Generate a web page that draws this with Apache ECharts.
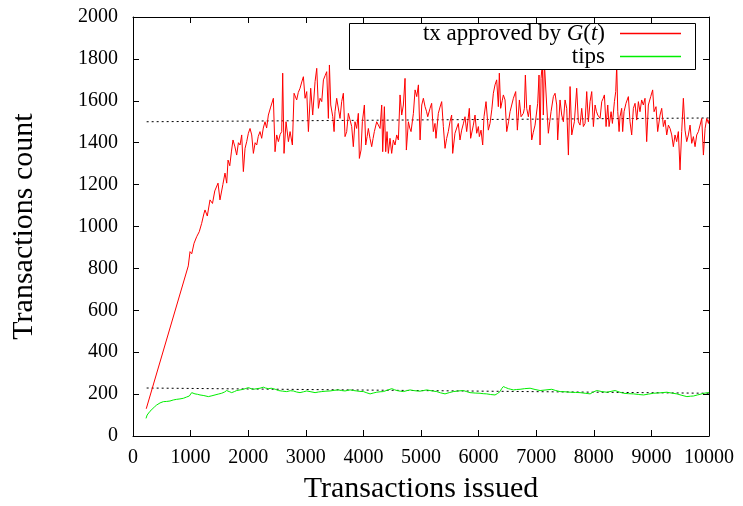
<!DOCTYPE html>
<html>
<head>
<meta charset="utf-8">
<script src="https://cdn.jsdelivr.net/npm/echarts@6/dist/echarts.min.js"></script>
<style>
  html, body { margin: 0; padding: 0; background: #fff; }
  #chart { width: 743px; height: 506px; }
</style>
</head>
<body>
<div id="chart"></div>
<script>
// transactions issued -> tx approved by G(t)
var approved = [
  [230, 130], [960, 812], [990, 880], [1020, 870], [1060, 920], [1105, 951], [1150, 975],
  [1192, 1015], [1230, 1060], [1250, 1079], [1290, 1050], [1337, 1127], [1380, 1110],
  [1420, 1170], [1476, 1207], [1510, 1127], [1560, 1200], [1597, 1255], [1627, 1207],
  [1650, 1317], [1680, 1290], [1710, 1360], [1736, 1413], [1770, 1380], [1800, 1341],
  [1830, 1400], [1858, 1389], [1887, 1437], [1916, 1262], [1945, 1373], [1974, 1405],
  [2003, 1445], [2032, 1468], [2061, 1437], [2090, 1349], [2120, 1400], [2148, 1389],
  [2175, 1430], [2205, 1453], [2234, 1421], [2262, 1470], [2292, 1500], [2320, 1470],
  [2350, 1532], [2390, 1570], [2437, 1612], [2466, 1357], [2495, 1437], [2524, 1405],
  [2555, 1440], [2582, 1453], [2599, 1732], [2622, 1349], [2657, 1500], [2698, 1405],
  [2727, 1453], [2767, 1389], [2796, 1636], [2842, 1604], [2870, 1640], [2900, 1660],
  [2930, 1690], [2958, 1715], [2987, 1612], [3016, 1644], [3045, 1453], [3085, 1660],
  [3120, 1532], [3161, 1692], [3190, 1755], [3219, 1564], [3248, 1612], [3277, 1596],
  [3306, 1700], [3335, 1720], [3363, 1739], [3392, 1516], [3410, 1771], [3433, 1580],
  [3468, 1524], [3491, 1453], [3507, 1548], [3536, 1612], [3565, 1620], [3594, 1516],
  [3623, 1596], [3652, 1636], [3681, 1429], [3710, 1453], [3739, 1540], [3768, 1548],
  [3797, 1477], [3825, 1381], [3854, 1500], [3883, 1468], [3912, 1540], [3930, 1325],
  [3959, 1365], [3982, 1500], [4017, 1580], [4040, 1389], [4065, 1430], [4086, 1468],
  [4115, 1420], [4144, 1381], [4168, 1420], [4190, 1453], [4231, 1500], [4260, 1508],
  [4289, 1468], [4318, 1580], [4335, 1357], [4364, 1572], [4387, 1357], [4410, 1453],
  [4433, 1349], [4462, 1421], [4491, 1349], [4520, 1413], [4549, 1389], [4578, 1437],
  [4607, 1413], [4636, 1628], [4665, 1532], [4694, 1580], [4723, 1707], [4746, 1365],
  [4781, 1500], [4805, 1470], [4827, 1453], [4868, 1540], [4897, 1652], [4926, 1620],
  [4955, 1676], [4984, 1413], [5013, 1580], [5041, 1612], [5070, 1572], [5095, 1550],
  [5117, 1524], [5157, 1564], [5185, 1588], [5214, 1453], [5243, 1492], [5260, 1421],
  [5301, 1540], [5330, 1570], [5359, 1596], [5388, 1477], [5417, 1373], [5445, 1420],
  [5474, 1453], [5503, 1500], [5532, 1532], [5550, 1349], [5590, 1445], [5620, 1470],
  [5648, 1492], [5677, 1413], [5706, 1460], [5735, 1490], [5764, 1524], [5793, 1453],
  [5839, 1564], [5862, 1421], [5909, 1484], [5938, 1532], [5967, 1445], [5996, 1477],
  [6013, 1429], [6042, 1460], [6071, 1389], [6094, 1524], [6129, 1596], [6169, 1460],
  [6198, 1492], [6230, 1560], [6256, 1636], [6285, 1676], [6314, 1700], [6343, 1572],
  [6360, 1732], [6383, 1564], [6410, 1600], [6430, 1628], [6459, 1604], [6488, 1453],
  [6520, 1500], [6546, 1548], [6575, 1580], [6604, 1612], [6644, 1644], [6673, 1460],
  [6708, 1604], [6737, 1524], [6777, 1540], [6795, 1564], [6812, 1723], [6835, 1564],
  [6864, 1524], [6893, 1580], [6922, 1413], [6950, 1450], [6980, 1484], [7026, 1588],
  [7049, 1723], [7067, 1389], [7084, 1707], [7107, 1780], [7124, 1532], [7142, 1780],
  [7165, 1780], [7182, 1580], [7211, 1445], [7235, 1500], [7258, 1548], [7298, 1620],
  [7327, 1636], [7356, 1580], [7373, 1413], [7414, 1604], [7443, 1532], [7472, 1500],
  [7501, 1604], [7530, 1564], [7559, 1341], [7588, 1668], [7617, 1437], [7640, 1470],
  [7663, 1500], [7703, 1660], [7732, 1500], [7761, 1484], [7790, 1564], [7819, 1477],
  [7848, 1492], [7877, 1644], [7906, 1500], [7935, 1596], [7964, 1644], [7993, 1477],
  [8022, 1580], [8045, 1550], [8068, 1532], [8109, 1516], [8138, 1596], [8160, 1610],
  [8184, 1628], [8213, 1477], [8242, 1580], [8265, 1477], [8300, 1548], [8323, 1492],
  [8358, 1596], [8381, 1644], [8398, 1770], [8416, 1548], [8439, 1453], [8455, 1524],
  [8484, 1564], [8501, 1453], [8525, 1548], [8559, 1588], [8600, 1620], [8629, 1500],
  [8658, 1437], [8687, 1564], [8716, 1588], [8745, 1508], [8774, 1596], [8802, 1548],
  [8831, 1604], [8860, 1580], [8889, 1612], [8918, 1405], [8947, 1580], [8988, 1620],
  [9022, 1652], [9046, 1548], [9080, 1572], [9109, 1453], [9150, 1532], [9179, 1564],
  [9208, 1477], [9237, 1508], [9266, 1437], [9295, 1484], [9324, 1468], [9353, 1437],
  [9381, 1381], [9410, 1437], [9439, 1405], [9468, 1453], [9497, 1270], [9526, 1453],
  [9555, 1612], [9584, 1460], [9613, 1405], [9642, 1437], [9671, 1484], [9700, 1397],
  [9729, 1429], [9758, 1381], [9787, 1437], [9816, 1453], [9845, 1484], [9874, 1516],
  [9903, 1341], [9932, 1468], [9961, 1516], [9990, 1492], [10000, 1510]
]

// transactions issued -> tips
var tips = [
  [226, 84], [245, 100], [266, 108], [295, 118], [324, 124], [370, 138], [411, 148],
  [470, 158], [527, 164], [585, 165], [642, 167], [700, 172], [758, 175], [815, 177],
  [874, 180], [930, 186], [978, 191], [1019, 207], [1050, 203], [1076, 201], [1120, 199],
  [1163, 196], [1230, 193], [1308, 188], [1370, 192], [1424, 196], [1480, 200],
  [1539, 204], [1590, 210], [1626, 217], [1670, 212], [1713, 207], [1760, 212],
  [1800, 217], [1860, 220], [1916, 223], [1960, 227], [2003, 231], [2050, 226],
  [2090, 223], [2150, 226], [2205, 228], [2263, 233], [2300, 229], [2350, 226],
  [2400, 228], [2437, 226], [2480, 222], [2524, 217], [2600, 214], [2668, 212],
  [2730, 216], [2784, 215], [2840, 210], [2900, 207], [2960, 211], [3016, 215],
  [3090, 211], [3161, 207], [3220, 210], [3277, 212], [3350, 214], [3421, 215],
  [3490, 218], [3566, 220], [3620, 217], [3682, 215], [3730, 218], [3769, 220],
  [3830, 217], [3884, 215], [3940, 213], [4000, 212], [4060, 206], [4116, 201],
  [4170, 205], [4232, 209], [4290, 211], [4347, 212], [4420, 219], [4492, 226],
  [4540, 221], [4579, 217], [4640, 214], [4695, 212], [4750, 216], [4810, 220],
  [4870, 217], [4926, 215], [4983, 214], [5042, 217], [5099, 220], [5157, 217],
  [5220, 214], [5273, 212], [5340, 206], [5417, 201], [5490, 207], [5562, 212],
  [5650, 215], [5736, 217], [5790, 212], [5851, 207], [5940, 205], [6025, 204],
  [6080, 202], [6141, 201], [6210, 198], [6285, 196], [6330, 203], [6372, 212],
  [6400, 226], [6430, 236], [6470, 231], [6517, 226], [6560, 223], [6604, 220],
  [6660, 222], [6720, 223], [6800, 226], [6894, 228], [6980, 222], [7068, 217],
  [7170, 220], [7270, 223], [7340, 217], [7415, 212], [7500, 211], [7589, 209],
  [7680, 208], [7762, 207], [7850, 204], [7936, 201], [7990, 210], [8052, 217],
  [8140, 212], [8225, 209], [8300, 213], [8370, 217], [8440, 210], [8515, 204],
  [8600, 202], [8689, 201], [8780, 198], [8863, 196], [8950, 200], [9036, 204],
  [9150, 206], [9268, 209], [9350, 205], [9442, 201], [9530, 194], [9616, 188],
  [9680, 190], [9731, 191], [9800, 196], [9876, 201], [9930, 205], [9963, 209],
  [10000, 207]
]

// dotted reference lines
var approvedMean = [[237, 1500], [10000, 1518]]
var tipsMean = [[237, 229], [10000, 204]]

var xTicks = [0, 10000, 1000]
var yTicks = [0, 2000, 200]

var seriesNames = ['tx approved by G(t)', 'tips']

var serif = 'Liberation Serif'

var chart = echarts.init(document.getElementById('chart'), null, { renderer: 'canvas' })

function plain(v) {
  return String(v)
}

function axisBase(min, max, interval) {
  return {
    type: 'value',
    min: min,
    max: max,
    interval: interval,
    axisLine: { show: true, onZero: false, lineStyle: { color: '#000', width: 1 } },
    axisTick: { show: true, inside: true, length: 6, lineStyle: { color: '#000', width: 1 } },
    splitLine: { show: false }
  }
}

var xBottom = axisBase(xTicks[0], xTicks[1], xTicks[2])
xBottom.position = 'bottom'
xBottom.axisLabel = { color: '#000', fontSize: 20, fontFamily: serif, margin: 12, formatter: plain }
xBottom.name = 'Transactions issued'
xBottom.nameLocation = 'middle'
xBottom.nameGap = 38
xBottom.nameTextStyle = { color: '#000', fontSize: 30, fontFamily: serif }

var xTop = axisBase(xTicks[0], xTicks[1], xTicks[2])
xTop.position = 'top'
xTop.axisLabel = { show: false }

var yLeft = axisBase(yTicks[0], yTicks[1], yTicks[2])
yLeft.position = 'left'
yLeft.axisLabel = { color: '#000', fontSize: 20, fontFamily: serif, margin: 15, formatter: plain }
yLeft.name = 'Transactions count'
yLeft.nameLocation = 'middle'
yLeft.nameGap = 94
yLeft.nameTextStyle = { color: '#000', fontSize: 30, fontFamily: serif }

var yRight = axisBase(yTicks[0], yTicks[1], yTicks[2])
yRight.position = 'right'
yRight.axisLabel = { show: false }

var legendText = {
  color: '#000',
  fontSize: 23,
  fontFamily: serif,
  padding: [0, 10, 0, 0],
  rich: {
    i: { fontStyle: 'italic', fontSize: 23, fontFamily: serif, color: '#000' }
  }
}

var option = {
  animation: false,
  backgroundColor: '#fff',
  grid: { left: 133, right: 34, top: 17, bottom: 70, outerBoundsMode: 'none', containLabel: false },
  xAxis: [xBottom, xTop],
  yAxis: [yLeft, yRight],
  legend: [
    {
      data: [seriesNames[0]],
      right: 62,
      top: 22,
      padding: 0,
      align: 'right',
      icon: 'rect',
      itemWidth: 61,
      itemHeight: 1.5,
      z: 10,
      textStyle: legendText,
      formatter: function() { return 'tx approved by {i|G}({i|t})' }
    },
    {
      data: [seriesNames[1]],
      right: 62,
      top: 45,
      padding: 0,
      align: 'right',
      icon: 'rect',
      itemWidth: 61,
      itemHeight: 1.5,
      z: 10,
      textStyle: legendText
    }
  ],
  graphic: [
    {
      type: 'rect',
      left: 349,
      top: 23,
      z: 8,
      shape: { width: 346, height: 46 },
      style: { fill: '#fff', stroke: '#000', lineWidth: 1 }
    }
  ],
  series: [
    {
      name: seriesNames[0],
      type: 'line',
      data: approved,
      showSymbol: false,
      color: '#ff0000',
      lineStyle: { color: '#ff0000', width: 1 },
      z: 3
    },
    {
      name: seriesNames[1],
      type: 'line',
      data: tips,
      showSymbol: false,
      color: '#00ee00',
      lineStyle: { color: '#00ee00', width: 1 },
      z: 3
    },
    {
      name: 'approved mean',
      type: 'line',
      data: approvedMean,
      showSymbol: false,
      lineStyle: { color: '#000', width: 1, type: [2, 3] },
      z: 2
    },
    {
      name: 'tips mean',
      type: 'line',
      data: tipsMean,
      showSymbol: false,
      lineStyle: { color: '#000', width: 1, type: [2, 3] },
      z: 2
    }
  ]
}

chart.setOption(option)
</script>
</body>
</html>
